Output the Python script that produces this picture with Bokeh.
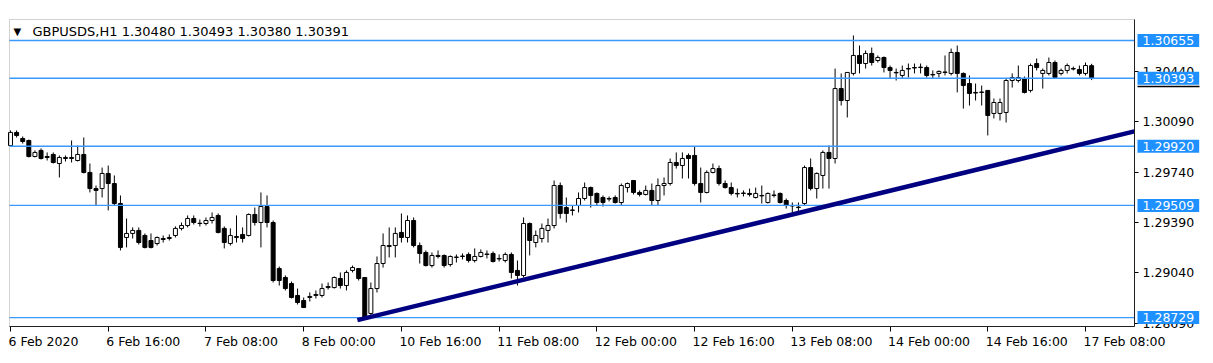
from bokeh.plotting import figure
from bokeh.models import (Label, FixedTicker, Range1d, PrintfTickFormatter, ColumnDataSource,
                          LinearAxis, BoxAnnotation)
from bokeh.embed import file_html
from bokeh.resources import INLINE

header_text = "GBPUSDS,H1  1.30480 1.30493 1.30380 1.30391"

open_ = [1.29925,1.30016,1.29974,1.29960,1.29849,1.29891,1.29849,1.29863,1.29800,1.29835,
         1.29835,1.29821,1.29863,1.29738,1.29626,1.29626,1.29731,1.29661,1.29522,1.29286,
         1.29314,1.29335,1.29300,1.29265,1.29244,1.29272,1.29279,1.29300,1.29349,1.29369,
         1.29418,1.29383,1.29383,1.29404,1.29439,1.29349,1.29244,1.29286,1.29307,1.29300,
         1.29446,1.29390,1.29501,1.29390,1.29070,1.29008,1.28966,1.28883,1.28848,1.28869,
         1.28883,1.28883,1.28938,1.28938,1.29001,1.28952,1.29057,1.29070,1.29008,1.28758,
         1.28931,1.29105,1.29223,1.29230,1.29321,1.29286,1.29404,1.29230,1.29182,1.29091,
         1.29154,1.29161,1.29098,1.29147,1.29154,1.29168,1.29126,1.29154,1.29168,1.29175,
         1.29140,1.29126,1.29168,1.29057,1.29022,1.29383,1.29251,1.29279,1.29335,1.29369,
         1.29647,1.29494,1.29474,1.29508,1.29557,1.29633,1.29592,1.29564,1.29557,1.29564,
         1.29529,1.29633,1.29682,1.29599,1.29585,1.29613,1.29543,1.29647,1.29661,1.29807,
         1.29786,1.29856,1.29856,1.29661,1.29599,1.29738,1.29765,1.29661,1.29633,1.29592,
         1.29592,1.29592,1.29564,1.29578,1.29529,1.29578,1.29592,1.29543,1.29508,1.29494,
         1.29522,1.29772,1.29626,1.29717,1.29877,1.29835,1.30321,1.30238,1.30426,1.30551,
         1.30495,1.30565,1.30516,1.30537,1.30467,1.30433,1.30412,1.30460,1.30467,1.30467,
         1.30467,1.30419,1.30426,1.30433,1.30426,1.30572,1.30426,1.30356,1.30294,1.30294,
         1.30308,1.30148,1.30148,1.30155,1.30377,1.30377,1.30391,1.30308,1.30495,1.30426,
         1.30426,1.30502,1.30426,1.30447,1.30460,1.30453,1.30426,1.30480]
high = [1.30030,1.30030,1.29988,1.29967,1.29891,1.29905,1.29877,1.29877,1.29856,1.29856,
        1.29960,1.29925,1.29981,1.29800,1.29647,1.29772,1.29786,1.29717,1.29578,1.29418,
        1.29356,1.29356,1.29314,1.29314,1.29293,1.29300,1.29307,1.29363,1.29390,1.29439,
        1.29439,1.29411,1.29425,1.29460,1.29453,1.29363,1.29349,1.29439,1.29356,1.29453,
        1.29494,1.29599,1.29578,1.29404,1.29084,1.29022,1.28980,1.28931,1.28869,1.28904,
        1.28918,1.28966,1.28973,1.29015,1.29043,1.29057,1.29091,1.29070,1.29008,1.28973,
        1.29154,1.29314,1.29356,1.29356,1.29453,1.29439,1.29425,1.29251,1.29196,1.29182,
        1.29196,1.29168,1.29161,1.29168,1.29175,1.29182,1.29210,1.29203,1.29196,1.29189,
        1.29168,1.29182,1.29182,1.29126,1.29425,1.29390,1.29335,1.29383,1.29418,1.29682,
        1.29668,1.29564,1.29508,1.29599,1.29668,1.29640,1.29599,1.29578,1.29571,1.29578,
        1.29661,1.29668,1.29682,1.29613,1.29647,1.29661,1.29696,1.29703,1.29835,1.29877,
        1.29877,1.29870,1.29918,1.29772,1.29752,1.29800,1.29786,1.29682,1.29668,1.29626,
        1.29613,1.29626,1.29633,1.29647,1.29599,1.29613,1.29599,1.29557,1.29529,1.29529,
        1.29786,1.29835,1.29738,1.29891,1.29925,1.30460,1.30426,1.30433,1.30690,1.30620,
        1.30586,1.30606,1.30551,1.30544,1.30481,1.30460,1.30481,1.30495,1.30495,1.30495,
        1.30481,1.30447,1.30447,1.30551,1.30599,1.30620,1.30433,1.30412,1.30356,1.30342,
        1.30308,1.30252,1.30252,1.30391,1.30426,1.30481,1.30405,1.30495,1.30530,1.30460,
        1.30537,1.30516,1.30460,1.30495,1.30474,1.30481,1.30502,1.30493]
low = [1.29918,1.29981,1.29939,1.29842,1.29842,1.29828,1.29821,1.29800,1.29703,1.29814,
       1.29807,1.29814,1.29731,1.29599,1.29508,1.29564,1.29474,1.29508,1.29196,1.29217,
       1.29279,1.29237,1.29210,1.29210,1.29230,1.29251,1.29265,1.29286,1.29335,1.29356,
       1.29376,1.29362,1.29369,1.29383,1.29314,1.29210,1.29230,1.29251,1.29251,1.29293,
       1.29369,1.29217,1.29356,1.28973,1.28952,1.28918,1.28862,1.28820,1.28799,1.28841,
       1.28862,1.28869,1.28924,1.28931,1.28931,1.28918,1.29043,1.28987,1.28722,1.28729,
       1.28904,1.29077,1.29147,1.29147,1.29251,1.29251,1.29217,1.29105,1.29084,1.29077,
       1.29140,1.29077,1.29084,1.29112,1.29133,1.29112,1.29112,1.29147,1.29140,1.29112,
       1.29119,1.29112,1.29001,1.28952,1.29008,1.29161,1.29217,1.29251,1.29251,1.29349,
       1.29418,1.29390,1.29439,1.29460,1.29543,1.29494,1.29508,1.29501,1.29536,1.29522,
       1.29508,1.29599,1.29585,1.29571,1.29578,1.29508,1.29508,1.29578,1.29647,1.29765,
       1.29696,1.29696,1.29647,1.29529,1.29592,1.29731,1.29647,1.29626,1.29578,1.29564,
       1.29571,1.29571,1.29557,1.29522,1.29522,1.29564,1.29522,1.29487,1.29460,1.29453,
       1.29508,1.29613,1.29557,1.29626,1.29626,1.29800,1.30203,1.30120,1.30412,1.30426,
       1.30460,1.30481,1.30502,1.30433,1.30391,1.30377,1.30391,1.30398,1.30426,1.30426,
       1.30398,1.30391,1.30398,1.30412,1.30412,1.30294,1.30182,1.30203,1.30238,1.30203,
       1.29995,1.30113,1.30099,1.30085,1.30328,1.30363,1.30287,1.30294,1.30447,1.30321,
       1.30412,1.30391,1.30412,1.30426,1.30447,1.30412,1.30412,1.30380]
close = [1.30016,1.29995,1.29953,1.29849,1.29877,1.29835,1.29842,1.29807,1.29842,1.29842,
         1.29842,1.29863,1.29738,1.29626,1.29613,1.29731,1.29661,1.29522,1.29217,1.29314,
         1.29335,1.29251,1.29217,1.29217,1.29286,1.29279,1.29286,1.29349,1.29369,1.29418,
         1.29390,1.29385,1.29404,1.29425,1.29321,1.29251,1.29300,1.29293,1.29279,1.29446,
         1.29390,1.29501,1.29390,1.28987,1.28987,1.28931,1.28869,1.28834,1.28799,1.28876,
         1.28890,1.28931,1.28945,1.29008,1.28952,1.29043,1.29077,1.29001,1.28729,1.28931,
         1.29105,1.29230,1.29230,1.29314,1.29286,1.29404,1.29230,1.29175,1.29091,1.29161,
         1.29161,1.29091,1.29154,1.29150,1.29157,1.29126,1.29154,1.29182,1.29171,1.29119,
         1.29137,1.29168,1.29043,1.29022,1.29383,1.29265,1.29300,1.29349,1.29369,1.29647,
         1.29453,1.29453,1.29477,1.29557,1.29633,1.29578,1.29529,1.29529,1.29553,1.29529,
         1.29647,1.29661,1.29599,1.29585,1.29613,1.29543,1.29647,1.29661,1.29807,1.29786,
         1.29835,1.29835,1.29661,1.29599,1.29738,1.29765,1.29661,1.29633,1.29592,1.29589,
         1.29595,1.29585,1.29592,1.29575,1.29592,1.29581,1.29529,1.29508,1.29505,1.29497,
         1.29772,1.29626,1.29731,1.29877,1.29835,1.30321,1.30238,1.30433,1.30551,1.30495,
         1.30565,1.30502,1.30537,1.30467,1.30447,1.30430,1.30447,1.30457,1.30464,1.30470,
         1.30412,1.30416,1.30440,1.30436,1.30572,1.30426,1.30342,1.30287,1.30290,1.30297,
         1.30134,1.30224,1.30224,1.30377,1.30398,1.30398,1.30294,1.30481,1.30467,1.30447,
         1.30502,1.30398,1.30447,1.30481,1.30457,1.30426,1.30481,1.30391]

time_tick_bars = [0, 16, 32, 48, 64, 80, 96, 112, 128, 144, 160, 176]
time_tick_labels = ["6 Feb 2020", "6 Feb 16:00", "7 Feb 08:00", "8 Feb 00:00",
                    "10 Feb 16:00", "11 Feb 08:00", "12 Feb 00:00", "12 Feb 16:00",
                    "13 Feb 08:00", "14 Feb 00:00", "14 Feb 16:00", "17 Feb 08:00"]
price_ticks = [1.28690, 1.29040, 1.29390, 1.29740, 1.30090, 1.30440]
level_prices = [1.30655, 1.30393, 1.29920, 1.29509, 1.28729]
bid_price = 1.30393
trend_bars = [56.8, 184.0]
trend_prices = [1.28712, 1.30023]

# ---- layout (pixels -> data) ----
W, H = 1213, 363
bar_px = 6.108          # pixels per bar
bar0_px = 10            # pixel x of bar 0
price_px = 0.0000695    # price per pixel
ref_price, ref_py = 1.30655, 40

def xd(px):
    return (px - bar0_px) / bar_px

def yd(py):
    return ref_price - (py - ref_py) * price_px

CH_L, CH_R, CH_T, CH_B = xd(9), xd(1134), yd(19), yd(326)
FONT = "DejaVu Sans"
FS = "12.5px"

p = figure(width=W, height=H, x_range=Range1d(xd(0), xd(W)), y_range=Range1d(yd(H), yd(0)),
           output_backend="svg", toolbar_location=None,
           x_axis_location=None, y_axis_location=None,
           min_border_left=0, min_border_right=0, min_border_top=0, min_border_bottom=0)
p.background_fill_color = "white"
p.border_fill_color = "white"
p.outline_line_color = None
p.grid.visible = False

# chart frame (left/top border)
p.add_layout(BoxAnnotation(left=CH_L, right=CH_R, bottom=CH_B, top=CH_T,
                           fill_alpha=0, line_color="#6a6a6a", line_width=1))

idx = list(range(len(open_)))
up = [c >= o for o, c in zip(open_, close)]
src = ColumnDataSource(dict(
    x=idx, o=open_, h=high, l=low, c=close,
    top=[max(o, c) for o, c in zip(open_, close)],
    bot=[min(o, c) for o, c in zip(open_, close)],
    fill=["white" if u else "black" for u in up],
))
p.segment(x0="x", y0="l", x1="x", y1="h", source=src, line_color="black", line_width=1)
p.vbar(x="x", top="top", bottom="bot", width=0.65, source=src,
       fill_color="fill", line_color="black", line_width=1)

p.segment(x0=[CH_L] * len(level_prices), y0=level_prices,
          x1=[CH_R] * len(level_prices), y1=level_prices,
          line_color="#3899ff", line_width=1.4)

p.line(trend_bars, trend_prices, line_color="#000080", line_width=4.5)

# axes (fixed at the chart edges)
ya = LinearAxis(fixed_location=CH_R, bounds=(CH_B, CH_T))
ya.ticker = FixedTicker(ticks=price_ticks)
ya.formatter = PrintfTickFormatter(format="%.5f")
ya.major_tick_out = 4
ya.major_tick_in = 0
ya.minor_tick_line_color = None
ya.axis_line_color = "black"
ya.major_tick_line_color = "black"
ya.major_label_standoff = 4
ya.major_label_text_font = FONT
ya.major_label_text_font_size = FS
ya.major_label_text_color = "black"
p.add_layout(ya, "right")

xa = LinearAxis(fixed_location=CH_B, bounds=(CH_L, CH_R))
xa.ticker = FixedTicker(ticks=time_tick_bars)
xa.major_label_overrides = {t: "" for t in time_tick_bars}
xa.major_tick_out = 5
xa.major_tick_in = 0
xa.minor_tick_line_color = None
xa.axis_line_color = "black"
xa.major_tick_line_color = "black"
xa.major_label_text_font_size = FS
p.add_layout(xa, "below")

for t, lab in zip(time_tick_bars, time_tick_labels):
    p.add_layout(Label(x=t, y=yd(341), text=lab, text_align="left",
                       x_offset=-2, text_baseline="middle", text_font=FONT,
                       text_font_size=FS, text_color="black"))

# black underline of the bid price tag
p.segment(x0=[xd(1137)], y0=[yd(86)], x1=[xd(1199)], y1=[yd(86)],
          line_color="black", line_width=1.5)

for lv in level_prices:
    p.add_layout(Label(x=CH_R, y=lv, x_offset=3, text=f"{lv:.5f}", text_align="left",
                       text_baseline="middle", text_font=FONT, text_font_size=FS,
                       text_color="white", background_fill_color="#1e90ff",
                       padding=dict(left=5, right=5, top=2, bottom=2)))

p.add_layout(Label(x=xd(13), y=yd(31), text="\u25bc", text_align="left",
                   text_baseline="middle", text_font=FONT, text_font_size="10px",
                   text_color="black"))
p.add_layout(Label(x=xd(32), y=yd(31), text=header_text, text_align="left",
                   text_baseline="middle", text_font=FONT, text_font_size="13px",
                   text_color="black"))

open("out.html", "w").write(file_html(p, INLINE))
